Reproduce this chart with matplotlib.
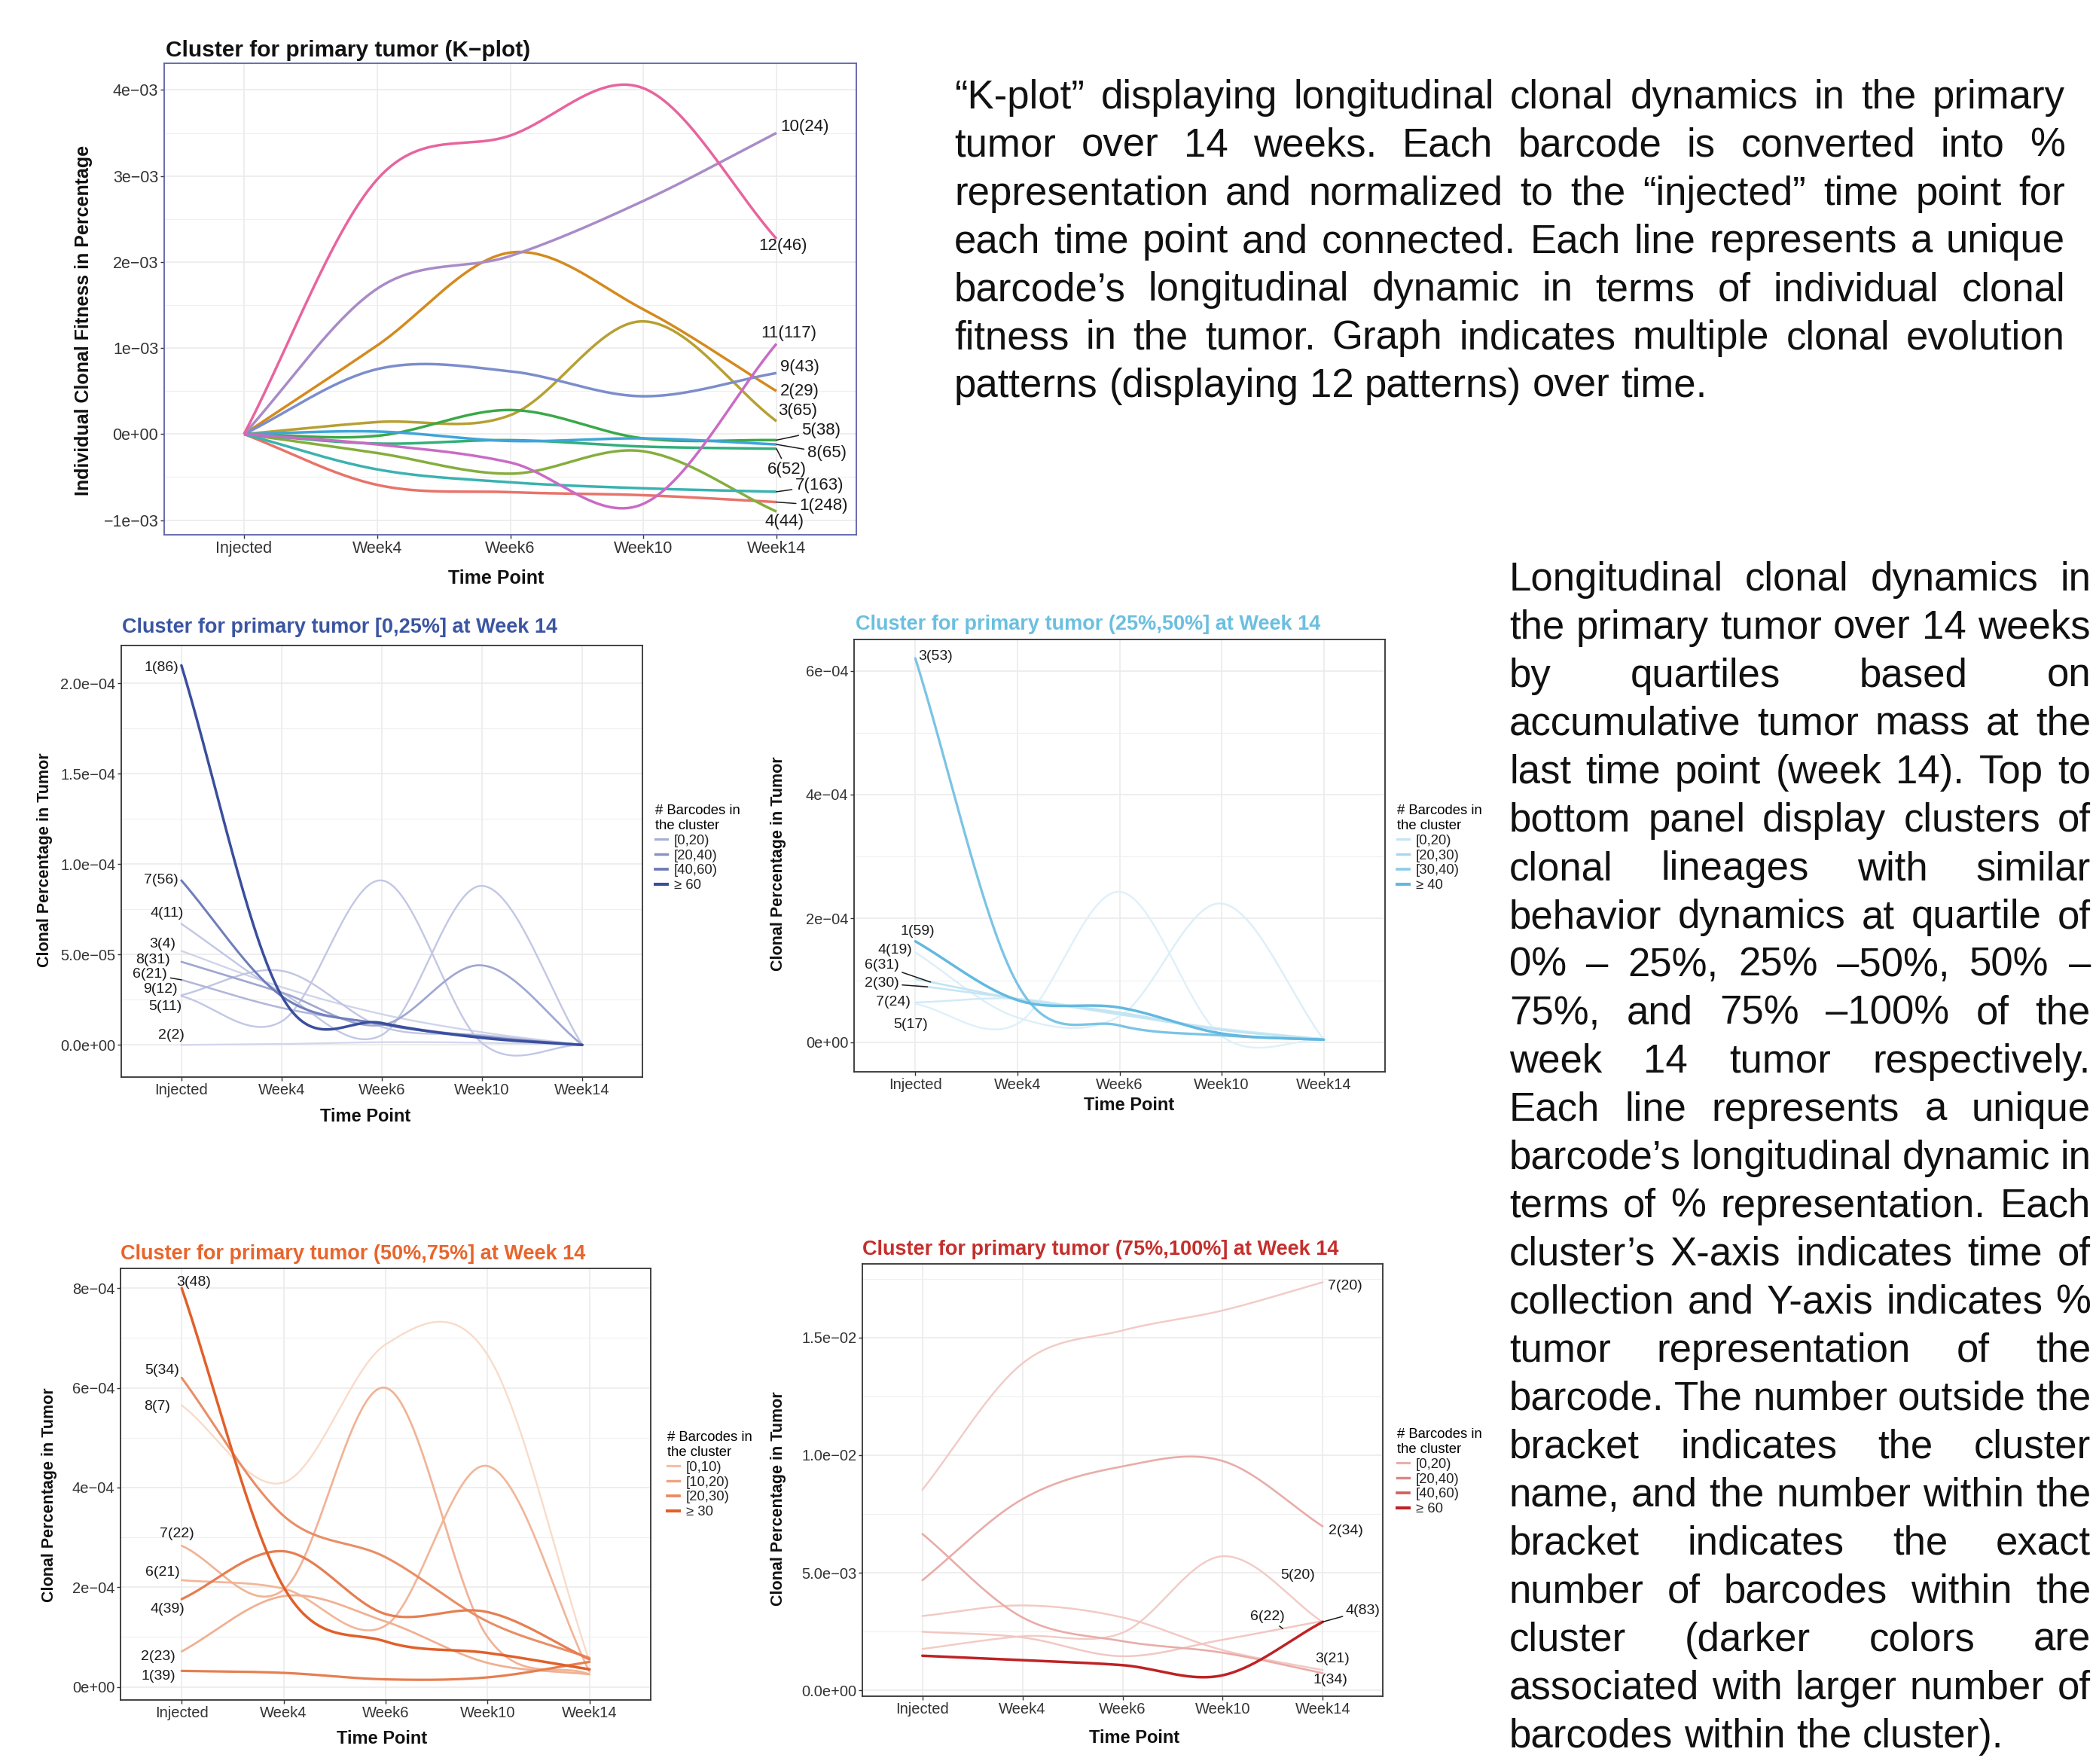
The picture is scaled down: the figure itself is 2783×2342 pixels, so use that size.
import numpy as np
import matplotlib
matplotlib.use("Agg")
import matplotlib.pyplot as plt
from matplotlib.lines import Line2D
from matplotlib.colors import to_rgb

plt.rcParams['font.family'] = ['Liberation Sans', 'DejaVu Sans']

W, H = 2783, 2342
time_points = ["Injected", "Week4", "Week6", "Week10", "Week14"]

# ---- K-plot (values in 1e-3 %) ----
k_ids = [1, 2, 3, 4, 5, 6, 7, 8, 9, 10, 11, 12]
k_counts = [248, 29, 65, 44, 38, 52, 163, 65, 43, 24, 117, 46]
k_values = [
    [0, -0.59, -0.675, -0.71, -0.79],
    [0, 1.03, 2.11, 1.45, 0.50],
    [0, 0.14, 0.22, 1.31, 0.15],
    [0, -0.22, -0.46, -0.20, -0.90],
    [0, -0.02, 0.28, -0.05, -0.07],
    [0, -0.11, -0.07, -0.145, -0.17],
    [0, -0.41, -0.56, -0.63, -0.67],
    [0, 0.03, -0.08, -0.05, -0.12],
    [0, 0.755, 0.73, 0.44, 0.71],
    [0, 1.69, 2.07, 2.71, 3.50],
    [0, -0.12, -0.33, -0.81, 1.05],
    [0, 2.96, 3.47, 4.02, 2.27],
]
k_colors = ['#E8736A', '#D48A1E', '#B7A033', '#84AE3C', '#3AA948', '#33AF7C',
            '#3AB2B0', '#3FA4D9', '#7C8DCB', '#A98BC8', '#C96BC5', '#E8649F']
k_yticks = [-1e-3, 0, 1e-3, 2e-3, 3e-3, 4e-3]
k_yticklabels = ["\u22121e\u221203", "0e+00", "1e\u221203", "2e\u221203", "3e\u221203", "4e\u221203"]

# ---- quartile panels ----
a_ids = [1, 7, 4, 3, 8, 6, 9, 5, 2]
a_counts = [86, 56, 11, 4, 31, 21, 12, 11, 2]
a_values = [  # 1e-5 %
    [21.0, 2.71, 1.21, 0.39, 0.0],
    [9.1, 2.7, 1.15, 0.45, 0.0],
    [6.7, 2.9, 0.55, 8.8, 0.0],
    [5.2, 3.2, 1.7, 0.7, 0.0],
    [4.6, 2.9, 1.1, 4.4, 0.0],
    [3.6, 2.05, 1.15, 0.45, 0.0],
    [2.75, 4.1, 1.0, 0.55, 0.0],
    [2.7, 1.3, 9.1, 0.1, 0.0],
    [0.0, 0.05, 0.15, 0.12, 0.0],
]
a_yticks = [0, 5e-5, 1e-4, 1.5e-4, 2e-4]
a_yticklabels = ["0.0e+00", "5.0e\u221205", "1.0e\u221204", "1.5e\u221204", "2.0e\u221204"]
a_bins = ["[0,20)", "[20,40)", "[40,60)", "\u2265 60"]

b_ids = [3, 1, 4, 6, 2, 7, 5]
b_counts = [53, 59, 19, 31, 30, 24, 17]
b_values = [  # 1e-4 %
    [6.2, 0.94, 0.27, 0.11, 0.04],
    [1.63, 0.68, 0.56, 0.14, 0.04],
    [1.45, 0.40, 0.42, 2.24, 0.04],
    [1.02, 0.70, 0.48, 0.20, 0.05],
    [0.92, 0.70, 0.45, 0.20, 0.05],
    [0.64, 0.70, 0.45, 0.22, 0.05],
    [0.62, 0.30, 2.43, 0.10, 0.04],
]
b_yticks = [0, 2e-4, 4e-4, 6e-4]
b_yticklabels = ["0e+00", "2e\u221204", "4e\u221204", "6e\u221204"]
b_bins = ["[0,20)", "[20,30)", "[30,40)", "\u2265 40"]

c_ids = [3, 5, 8, 7, 6, 4, 2, 1]
c_counts = [48, 34, 7, 22, 21, 39, 23, 39]
c_values = [  # 1e-4 %
    [8.0, 2.0, 0.91, 0.68, 0.35],
    [6.2, 3.43, 2.6, 1.31, 0.58],
    [5.65, 4.1, 6.87, 6.66, 0.5],
    [2.83, 1.95, 6.0, 1.0, 0.25],
    [2.14, 1.97, 1.23, 4.43, 0.3],
    [1.76, 2.72, 1.46, 1.5, 0.55],
    [0.71, 1.82, 1.31, 0.48, 0.25],
    [0.32, 0.28, 0.15, 0.19, 0.5],
]
c_yticks = [0, 2e-4, 4e-4, 6e-4, 8e-4]
c_yticklabels = ["0e+00", "2e\u221204", "4e\u221204", "6e\u221204", "8e\u221204"]
c_bins = ["[0,10)", "[10,20)", "[20,30)", "\u2265 30"]

d_ids = [7, 2, 5, 6, 4, 3, 1]
d_counts = [20, 34, 20, 22, 83, 21, 34]
d_values = [  # 1e-3 %
    [8.53, 13.9, 15.3, 16.15, 17.35],
    [4.68, 8.13, 9.52, 9.75, 6.97],
    [1.76, 2.3, 2.45, 5.70, 2.9],
    [2.49, 2.25, 1.45, 2.15, 2.95],
    [1.47, 1.28, 1.07, 0.64, 2.91],
    [3.16, 3.61, 3.10, 1.71, 0.86],
    [6.65, 3.10, 2.09, 1.60, 0.73],
]
d_yticks = [0, 5e-3, 1e-2, 1.5e-2]
d_yticklabels = ["0.0e+00", "5.0e\u221203", "1.0e\u221202", "1.5e\u221202"]
d_bins = ["[0,20)", "[20,40)", "[40,60)", "\u2265 60"]

# label layout: (x, y in panel units, ha, leader anchor x or None)
k_label_pos = [(4.17, -0.83, 'left', 4), (4.03, 0.50, 'left', None), (4.01, 0.27, 'left', None),
               (4.06, -1.02, 'center', None), (4.19, 0.04, 'left', 4), (4.08, -0.41, 'center', 4),
               (4.14, -0.60, 'left', 4), (4.23, -0.22, 'left', 4), (4.03, 0.78, 'left', None),
               (4.03, 3.57, 'left', None), (4.09, 1.17, 'center', None), (4.05, 2.19, 'center', None)]
a_label_pos = [(-0.03, 20.86, 'right', None), (-0.03, 9.11, 'right', None), (0.02, 7.3, 'right', None),
               (-0.06, 5.58, 'right', None), (-0.11, 4.72, 'right', None), (-0.14, 3.9, 'right', 0),
               (-0.04, 3.09, 'right', None), (0.005, 2.1, 'right', None), (0.03, 0.52, 'right', None)]
b_label_pos = [(0.03, 6.23, 'left', None), (0.02, 1.79, 'center', None), (-0.03, 1.49, 'right', None),
               (-0.16, 1.24, 'right', 0.15), (-0.16, 0.95, 'right', 0.12), (-0.05, 0.65, 'right', None),
               (0.12, 0.28, 'right', None)]
c_label_pos = [(0.12, 8.12, 'center', None), (-0.02, 6.35, 'right', None), (-0.11, 5.62, 'right', None),
               (-0.05, 3.07, 'center', None), (-0.02, 2.30, 'right', None), (0.03, 1.56, 'right', None),
               (-0.06, 0.61, 'right', None), (-0.06, 0.21, 'right', None)]
d_label_pos = [(4.05, 17.2, 'left', None), (4.06, 6.79, 'left', None), (3.75, 4.88, 'center', None),
               (3.45, 3.12, 'center', 3.6), (4.23, 3.38, 'left', 4), (4.1, 1.32, 'center', None),
               (4.08, 0.44, 'center', None)]

top_caption = [
    "\u201cK-plot\u201d displaying longitudinal clonal dynamics in the primary",
    "tumor over 14 weeks. Each barcode is converted into %",
    "representation and normalized to the \u201cinjected\u201d time point for",
    "each time point and connected. Each line represents a unique",
    "barcode\u2019s longitudinal dynamic in terms of individual clonal",
    "fitness in the tumor. Graph indicates multiple clonal evolution",
    "patterns (displaying 12 patterns) over time.",
]
right_caption = [
    "Longitudinal clonal dynamics in",
    "the primary tumor over 14 weeks",
    "by quartiles based on",
    "accumulative tumor mass at the",
    "last time point (week 14). Top to",
    "bottom panel display clusters of",
    "clonal lineages with similar",
    "behavior dynamics at quartile of",
    "0% \u2013 25%, 25% \u201350%, 50% \u2013",
    "75%, and 75% \u2013100% of the",
    "week 14 tumor respectively.",
    "Each line represents a unique",
    "barcode\u2019s longitudinal dynamic in",
    "terms of % representation. Each",
    "cluster\u2019s X-axis indicates time of",
    "collection and Y-axis indicates %",
    "tumor representation of the",
    "barcode. The number outside the",
    "bracket indicates the cluster",
    "name, and the number within the",
    "bracket indicates the exact",
    "number of barcodes within the",
    "cluster (darker colors are",
    "associated with larger number of",
    "barcodes within the cluster).",
]


def spline(vals, n=60):
    # Catmull-Rom curve through the five time points (drawing only)
    v = np.asarray(vals, float)
    p = np.concatenate([[2 * v[0] - v[1]], v, [2 * v[-1] - v[-2]]])
    xs, ys = [], []
    for i in range(len(v) - 1):
        t = np.linspace(0, 1, n, endpoint=(i == len(v) - 2))
        m1 = (p[i + 2] - p[i]) / 2
        m2 = (p[i + 3] - p[i + 1]) / 2
        h00 = 2 * t**3 - 3 * t**2 + 1
        h10 = t**3 - 2 * t**2 + t
        h01 = -2 * t**3 + 3 * t**2
        h11 = t**3 - t**2
        ys.append(h00 * p[i + 1] + h10 * m1 + h01 * p[i + 2] + h11 * m2)
        xs.append(i + t)
    return np.concatenate(xs), np.concatenate(ys)


def mix(light, dark, t):
    l, d = np.array(to_rgb(light)), np.array(to_rgb(dark))
    return tuple(l + (d - l) * t)


fig = plt.figure(figsize=(W / 100, H / 100), dpi=100)
fig.patch.set_facecolor('white')


def px_axes(left, top, right, bottom):
    return fig.add_axes([left / W, 1 - bottom / H, (right - left) / W, (bottom - top) / H])


def style(ax, ylim, yticks, ylabels, spine_color, tick_size):
    ax.set_xlim(-0.6, 4.6)
    ax.set_ylim(*ylim)
    ax.set_xticks(range(5))
    ax.set_xticklabels(time_points)
    ax.set_yticks(yticks)
    ax.set_yticklabels(ylabels)
    step = yticks[1] - yticks[0]
    minor = np.arange(yticks[0] - step / 2, ylim[1], step)
    ax.set_yticks(minor[(minor > ylim[0]) & (minor < ylim[1])], minor=True)
    ax.grid(True, which='major', color='#EBEBEB', lw=1.2)
    ax.grid(True, which='minor', axis='y', color='#EFEFEF', lw=0.8)
    ax.set_axisbelow(True)
    ax.tick_params(which='major', length=3.5, width=1, color='#333333',
                   labelsize=tick_size, labelcolor='#333333', pad=2)
    ax.tick_params(which='minor', length=0)
    for s in ax.spines.values():
        s.set_color(spine_color)
        s.set_linewidth(1.3)


def add_labels(ax, ids, counts, values, layout, scale, size):
    for cid, n, vals, (lx, ly, ha, anchor) in zip(ids, counts, values, layout):
        txt = f"{cid}({n})"
        if anchor is None:
            ax.text(lx, ly * scale, txt, ha=ha, va='center', fontsize=size, color='#1a1a1a')
        else:
            xs, ys = spline(vals)
            ay = np.interp(anchor, xs, ys) * scale
            ax.annotate(txt, xy=(anchor, ay), xytext=(lx, ly * scale), ha=ha, va='center',
                        fontsize=size, color='#1a1a1a', annotation_clip=False,
                        arrowprops=dict(arrowstyle='-', color='#1a1a1a', lw=1.1,
                                        shrinkA=1, shrinkB=0))


# ---------------- K-plot ----------------
ax = px_axes(218, 84, 1137, 710)
style(ax, (-1.17e-3, 4.31e-3), k_yticks, k_yticklabels, '#5D60A8', 15.5)
for vals, col in zip(k_values, k_colors):
    xs, ys = spline(vals)
    ax.plot(xs, ys * 1e-3, color=col, lw=2.5, solid_capstyle='butt')
add_labels(ax, k_ids, k_counts, k_values, k_label_pos, 1e-3, 16)
fig.text(220 / W, 1 - 75 / H, "Cluster for primary tumor (K\u2212plot)", fontsize=21.5,
         fontweight='bold', color='#111111')
fig.text(111 / W, 1 - 425 / H, "Individual Clonal Fitness in Percentage", rotation=90,
         ha='center', va='center', fontsize=18, fontweight='bold', color='#111111')
fig.text(659 / W, 1 - 775 / H, "Time Point", ha='center', fontsize=18,
         fontweight='bold', color='#111111')

# ---------------- quartile panels ----------------
panels = [
    dict(box=(161, 857, 853, 1430), ylim=(-1.78e-5, 2.21e-4), ticks=a_yticks, tl=a_yticklabels,
         ids=a_ids, counts=a_counts, values=a_values, scale=1e-5, layout=a_label_pos,
         light='#D6D9EE', dark='#3A4E9E', gamma=1.0, bins=a_bins, samples=[8, 30, 50, 86],
         title="Cluster for primary tumor [0,25%] at Week 14", tcol='#3A55A2',
         tpos=(162, 840), ypos=(60, 1142), xpos=(485, 1489), legpos=(870, 1068)),
    dict(box=(1134, 849, 1839, 1423), ylim=(-0.478e-4, 6.505e-4), ticks=b_yticks, tl=b_yticklabels,
         ids=b_ids, counts=b_counts, values=b_values, scale=1e-4, layout=b_label_pos,
         light='#EEF7FC', dark='#62B9E0', gamma=1.8, bins=b_bins, samples=[12, 25, 35, 59],
         title="Cluster for primary tumor (25%,50%] at Week 14", tcol='#6BBFE0',
         tpos=(1136, 836), ypos=(1034, 1147), xpos=(1499, 1474), legpos=(1855, 1068)),
    dict(box=(160, 1684, 864, 2257), ylim=(-0.264e-4, 8.396e-4), ticks=c_yticks, tl=c_yticklabels,
         ids=c_ids, counts=c_counts, values=c_values, scale=1e-4, layout=c_label_pos,
         light='#FCE8DB', dark='#E0602A', gamma=1.2, bins=c_bins, samples=[6, 15, 25, 48],
         title="Cluster for primary tumor (50%,75%] at Week 14", tcol='#E8652C',
         tpos=(160, 1672), ypos=(66, 1985), xpos=(507, 2315), legpos=(886, 1900)),
    dict(box=(1145, 1678, 1836, 2252), ylim=(-0.25e-3, 18.13e-3), ticks=d_yticks, tl=d_yticklabels,
         ids=d_ids, counts=d_counts, values=d_values, scale=1e-3, layout=d_label_pos,
         light='#FCEBE4', dark='#BE2224', gamma=1.3, bins=d_bins, samples=[10, 30, 50, 83],
         title="Cluster for primary tumor (75%,100%] at Week 14", tcol='#C42F2C',
         tpos=(1145, 1666), ypos=(1034, 1990), xpos=(1506, 2314), legpos=(1855, 1896)),
]

for p in panels:
    ax = px_axes(*p['box'])
    style(ax, p['ylim'], p['ticks'], p['tl'], '#333333', 14.5)
    top = max(p['counts'])
    order = np.argsort(p['counts'], kind='stable')
    for i in order:
        t = (p['counts'][i] / top) ** p['gamma']
        xs, ys = spline(p['values'][i])
        ax.plot(xs, ys * p['scale'], color=mix(p['light'], p['dark'], t),
                lw=1.6 + 0.9 * t, solid_capstyle='round')
    add_labels(ax, p['ids'], p['counts'], p['values'], p['layout'], p['scale'], 14)

    # legend keys: evenly stepped shades from light to full colour
    handles = []
    for k, s in enumerate(p['samples']):
        t = max(min(s / top, 1) ** p['gamma'], 0.3 + 0.2 * k)
        handles.append(Line2D([], [], color=mix(p['light'], p['dark'], min(t, 1)),
                              lw=2.0 + 0.9 * min(t, 1)))
    leg = ax.legend(handles, p['bins'], title="# Barcodes in\nthe cluster", loc='upper left',
                    bbox_to_anchor=(p['legpos'][0] / W, 1 - p['legpos'][1] / H),
                    bbox_transform=fig.transFigure, frameon=False, fontsize=13.3,
                    title_fontsize=13.3, handlelength=0.85, handletextpad=0.5,
                    labelspacing=0.16, borderpad=0, borderaxespad=0, alignment='left')
    for txt in leg.get_texts():
        txt.set_color('#222222')

    fig.text(p['tpos'][0] / W, 1 - p['tpos'][1] / H, p['title'], fontsize=19.5,
             fontweight='bold', color=p['tcol'])
    fig.text(p['ypos'][0] / W, 1 - p['ypos'][1] / H, "Clonal Percentage in Tumor", rotation=90,
             ha='center', va='center', fontsize=15.5, fontweight='bold', color='#111111')
    fig.text(p['xpos'][0] / W, 1 - p['xpos'][1] / H, "Time Point", ha='center', fontsize=17,
             fontweight='bold', color='#111111')

# ---------------- justified captions ----------------
renderer = fig.canvas.get_renderer()


def justify(lines, x0, x1, y0, dy, size):
    space = size * 100 / 72 * 0.278
    for i, line in enumerate(lines):
        words = line.split(' ')
        ts = [fig.text(0, 1 - (y0 + i * dy) / H, w, fontsize=size, va='baseline',
                       color='#111111') for w in words]
        ws = [t.get_window_extent(renderer).width for t in ts]
        if i == len(lines) - 1 or len(words) == 1:
            gap = space
        else:
            gap = (x1 - x0 - sum(ws)) / (len(words) - 1)
        x = x0
        for t, w in zip(ts, ws):
            t.set_x(x / W)
            x += w + gap


justify(top_caption, 1267, 2742, 144, 63.8, 38)
justify(right_caption, 2004, 2776, 784, 64.0, 38)

fig.savefig("out.png", dpi=100)
